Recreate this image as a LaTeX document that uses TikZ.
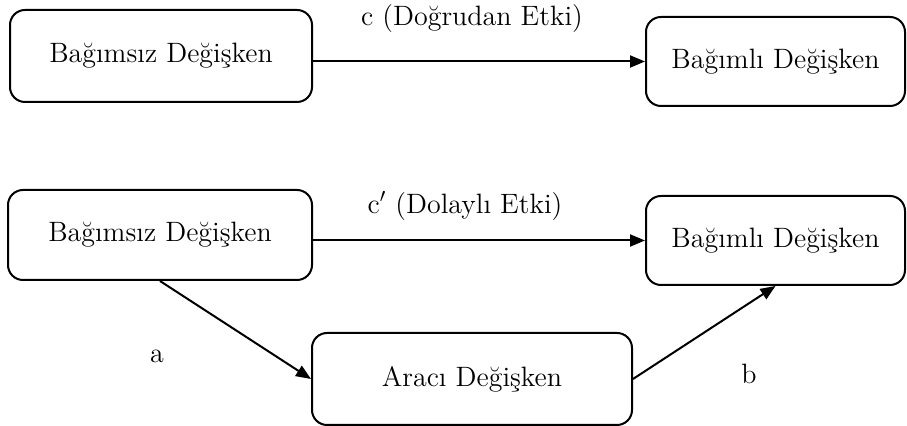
\documentclass[tikz,border=0pt]{standalone}
\usepackage{tikz}
\usetikzlibrary{arrows.meta}

\tikzset{
  varbox/.style={draw, line width=1pt, rounded corners=7.5pt, align=center, font=\fontsize{14}{16}\selectfont},
  etki/.style={line width=1pt, -{Triangle[length=7.5pt,width=6pt]}},
  etiket/.style={font=\fontsize{14}{16}\selectfont}
}

\begin{document}
\begin{tikzpicture}[x=0.5pt,y=-0.5pt]
\useasboundingbox (0,0) rectangle (907,426);

% ust model
\node [varbox, minimum width=151pt, minimum height=46pt] (bagimsizA) at (161,56) {Bağımsız Değişken} ;
\node [varbox, minimum width=129.5pt, minimum height=44.5pt] (bagimliA) at (775.5,61.5) {Bağımlı Değişken} ;

\draw [etki] (bagimsizA.east |- bagimliA.west) -- (bagimliA.west) ;
\node [etiket] (cLabel) at (472,19) {c (Doğrudan Etki)} ;

% alt model
\node [varbox, minimum width=152pt, minimum height=45pt] (bagimsizB) at (160,235) {Bağımsız Değişken} ;
\node [varbox, minimum width=129.5pt, minimum height=44.5pt] (bagimliB) at (775.5,240.5) {Bağımlı Değişken} ;
\node [varbox, minimum width=160pt, minimum height=46pt] (araci) at (472,379) {Aracı Değişken} ;

\draw [etki] (bagimsizB.east |- bagimliB.west) -- (bagimliB.west) ;
\draw [etki] (bagimsizB.south) -- (araci.west) ;
\draw [etki] (araci.east) -- (bagimliB.south) ;

\node [etiket] (cpLabel) at (465,206) {c$'$ (Dolaylı Etki)} ;
\node [etiket] (aLabel) at (157,356) {a} ;
\node [etiket] (bLabel) at (749,374) {b} ;
\end{tikzpicture}
\end{document}
